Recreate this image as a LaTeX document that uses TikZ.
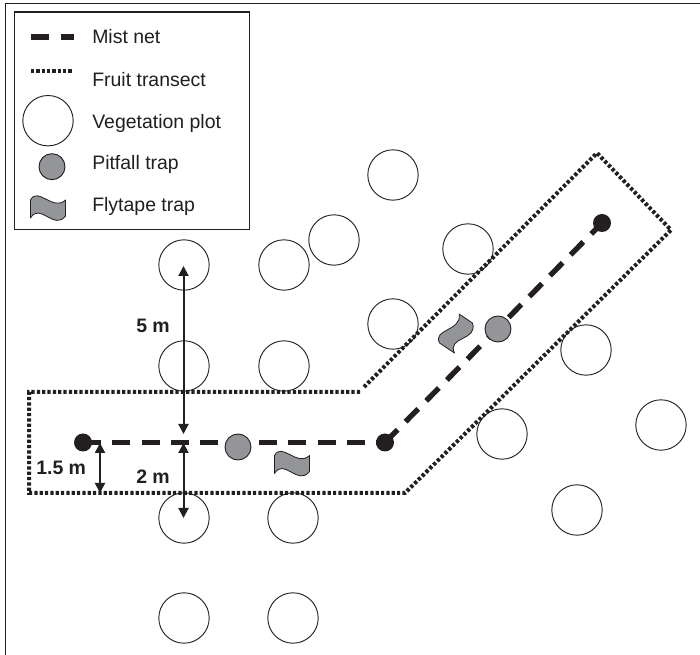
\documentclass[tikz,border=0pt]{standalone}
\usepackage{fontspec}
\setmainfont{Liberation Sans}
\usetikzlibrary{arrows.meta}
\definecolor{ink}{HTML}{231F20}
\definecolor{trapgrey}{HTML}{939598}
\tikzset{
  x=0.75pt,y=-0.75pt,
  plotc/.style={circle,draw=ink,line width=0.7pt,fill=none,minimum size=37.8pt,inner sep=0pt},
  pitc/.style={circle,draw=ink,line width=0.7pt,fill=trapgrey,minimum size=19.5pt,inner sep=0pt},
  endc/.style={circle,fill=ink,minimum size=13.5pt,inner sep=0pt},
  netline/.style={draw=ink,line width=4pt,dash pattern=on 13.5pt off 8.5pt},
  fruitline/.style={draw=ink,line width=3pt,dash pattern=on 2.4pt off 1.6pt},
  dimarrow/.style={draw=ink,line width=1.5pt,{Triangle[length=7.5pt,width=7.5pt]}-{Triangle[length=7.5pt,width=7.5pt]}},
  legendtext/.style={anchor=base west,font=\fontsize{14.6pt}{16pt}\selectfont,text=ink,inner sep=0pt},
  dimtext/.style={anchor=base west,font=\bfseries\fontsize{14.6pt}{16pt}\selectfont,text=ink,inner sep=0pt},
  tape/.pic={\draw[draw=ink,line width=0.6pt,fill=trapgrey,line join=round]
     (-17.5,-8) .. controls (-10,-22) and (5,4) .. (17.5,-8) -- (17.5,8)
     .. controls (6,23) and (-8,-6) .. (-17.5,10) -- cycle;}
}
\begin{document}
\begin{tikzpicture}
\useasboundingbox (0,0) rectangle (700,655);
\coordinate (ba) at (700,3.5);
\coordinate (bb) at (5.5,3.5);
\coordinate (bc) at (5.5,655);
\draw[ink,line width=1pt] (ba) -- (bb) -- (bc);
% plots
\foreach \n/\a/\b in {p1/393/175,p2/334/240,p3/468/249,p4/184/265,p5/284/265,p6/393/324,p7/586/350,p8/184/366,p9/284/366,p10/502/434,p11/661/425,p12/577/510,p13/184/518,p14/293/518,p15/184/618,p16/293/618}
  \node[plotc] (\n) at (\a,\b) {};
% fruit transect
\coordinate (fa) at (360,392);
\coordinate (fb) at (29,392);
\coordinate (fc) at (29,493);
\coordinate (fd) at (405,493);
\coordinate (fe) at (671,230);
\coordinate (ff) at (597,153);
\coordinate (fg) at (364,387);
\draw[fruitline] (fa) -- (fb) -- (fc) -- (fd) -- (fe) -- (ff) -- (fg);
% mist net
\node[endc] (n1) at (83,442.5) {};
\node[endc] (n2) at (385,442.5) {};
\node[endc] (n3) at (602,223) {};
\draw[netline] (n1.center) -- (n2.center);
\draw[netline] (n2.center) -- (n3.center);
% traps
\node[pitc] (t1) at (238,447) {};
\node[pitc] (t2) at (498,329) {};
\pic at (292,463.5) {tape};
\pic[rotate=56] at (456,333) {tape};
% dims
\coordinate (d5a) at (183.5,266);
\coordinate (d5b) at (183.5,434);
\coordinate (d2a) at (183.5,443);
\coordinate (d2b) at (183.5,518);
\coordinate (d1a) at (100,443);
\coordinate (d1b) at (100,493);
\draw[dimarrow] (d5a) -- (d5b);
\draw[dimarrow] (d2a) -- (d2b);
\draw[dimarrow] (d1a) -- (d1b);
\node[dimtext] (l5) at (136,333) {5 m};
\node[dimtext] (l2) at (136,484) {2 m};
\node[dimtext] (l1) at (36,475) {1.5 m};
% legend
\node[draw=ink,line width=0.9pt,fill=white,minimum width=176pt,minimum height=163pt,inner sep=0pt] (legend) at (132,120.7) {};
\coordinate (la) at (31,37);
\coordinate (lb) at (74,37);
\draw[draw=ink,line width=4pt,dash pattern=on 13.7pt off 8.5pt] (la) -- (lb);
\coordinate (lc) at (31,70.7);
\coordinate (ld) at (73,70.7);
\draw[fruitline] (lc) -- (ld);
\node[plotc] (lp) at (48,120.7) {};
\node[pitc] (lt) at (52,166.7) {};
\pic at (48,208) {tape};
\node[legendtext] (tm) at (92,43.3) {Mist net};
\node[legendtext] (tf) at (92,86.7) {Fruit transect};
\node[legendtext] (tv) at (92,128.3) {Vegetation plot};
\node[legendtext] (tt) at (92,170) {Pitfall trap};
\node[legendtext] (tl) at (92,211.7) {Flytape trap};
\end{tikzpicture}
\end{document}
